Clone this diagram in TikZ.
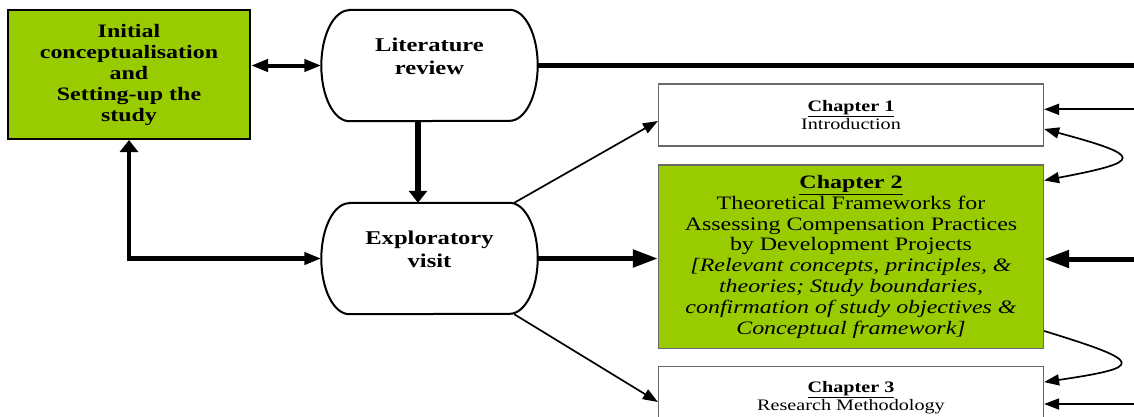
\documentclass[tikz,border=0pt]{standalone}
\usepackage{fontspec}
\setmainfont{Liberation Serif}[FakeStretch=1.26]
\usetikzlibrary{arrows.meta}
\definecolor{leaf}{RGB}{153,204,0}
\definecolor{rim}{RGB}{105,105,105}

% outline of a pill-shaped step (straight top and bottom, elliptic ends)
\newcommand\pilloutline[1]{%
  \draw[line width=2pt]
    ([xshift=28pt]#1.north west) -- ([xshift=-28pt]#1.north east)
    arc[start angle=-90,end angle=90,x radius=28,y radius=55.5]
    -- ([xshift=28pt]#1.south west)
    arc[start angle=90,end angle=270,x radius=28,y radius=55.5] -- cycle;}
% extra depth under the last line keeps the text in the upper part
\newcommand\pillfoot{\rule[-18pt]{0pt}{18pt}}

\begin{document}
\begin{tikzpicture}[x=1pt,y=-1pt,
  greenbox/.style={draw=black,line width=2pt,fill=leaf,minimum width=242pt,
    minimum height=129pt,align=center,inner sep=0pt,
    font=\fontsize{19}{21}\selectfont\bfseries},
  pill/.style={minimum width=216pt,minimum height=111pt,align=center,
    inner sep=0pt,font=\fontsize{19.5}{23.3}\selectfont\bfseries},
  chapbox/.style={draw=rim,line width=1.2pt,minimum width=385pt,
    minimum height=62pt,align=center,inner sep=0pt,
    font=\fontsize{16}{18}\selectfont},
  chapgreen/.style={draw=rim,line width=1.2pt,fill=leaf,minimum width=385pt,
    minimum height=183.3pt,align=center,inner sep=0pt,
    font=\fontsize{19}{20.8}\selectfont},
  hflowboth/.style={line width=4pt,{Triangle[length=17pt,width=12pt]}-{Triangle[length=17pt,width=12pt]}},
  vflow/.style={line width=5.5pt,-{Triangle[length=12pt,width=18pt]}},
  bigflow/.style={line width=5pt,-{Triangle[length=25pt,width=17pt]}},
  thinflow/.style={line width=1.7pt,-{Triangle[length=15pt,width=11pt]}},
  thinboth/.style={line width=1.7pt,{Triangle[length=15pt,width=11pt]}-{Triangle[length=15pt,width=11pt]}},
]
\useasboundingbox (0,0) rectangle (1134,416);
\clip (0,0) rectangle (1134,416);

% left column
\node[greenbox] (init) at (129,74.5)
  {Initial\\conceptualisation\\and\\Setting-up the\\study};
\node[pill] (lit) at (429.5,65.5) {Literature\\review\pillfoot};
\node[pill] (exp) at (429.5,258.5) {Exploratory\\visit\pillfoot};
\pilloutline{lit}
\pilloutline{exp}

% chapters
\node[chapbox] (ch1) at (851,115)
  {\underline{\textbf{Chapter 1}}\\Introduction};
\node[chapgreen] (ch2) at (851,256.7)
  {\underline{\textbf{Chapter 2}}\\Theoretical Frameworks for\\
   Assessing Compensation Practices\\by Development Projects\\
   \textit{[Relevant concepts, principles, \&}\\
   \textit{theories; Study boundaries,}\\
   \textit{confirmation of study objectives \&}\\
   \textit{Conceptual framework]}};
\node[chapbox,fill=white] (ch3) at (851,397.7)
  {\underline{\textbf{Chapter 3}}\\Research Methodology};

% free ends at the right margin
\coordinate (topEnd) at (1134,65.5);
\coordinate (r1) at (1134,109.3);
\coordinate (r2) at (1134,259);
\coordinate (r3) at (1134,404);

% connectors of the left column
\draw[hflowboth] (init.east |- lit.west) -- (lit.west);
\draw[vflow] ([xshift=-11.5pt]lit.south) -- ([xshift=-11.5pt]exp.north);
\draw[line width=4.5pt,{Triangle[length=12pt,width=18pt]}-{Triangle[length=17pt,width=12pt]}]
  (init.south) |- (exp.west);
\draw[line width=5pt] (lit.east) -- (topEnd);

% connectors towards the chapters
\draw[thinflow] ([xshift=-23.5pt]exp.north east) -- ([yshift=-6pt]ch1.west);
\draw[thinflow] ([xshift=-23.5pt]exp.south east) -- ([yshift=-4.3pt]ch3.west);
\draw[bigflow] (exp.east) -- (exp.east -| ch2.west);
\draw[bigflow] (r2) -- (r2 -| ch2.east);
\draw[thinflow] (r1) -- (r1 -| ch1.east);
\draw[thinflow] (r3) -- (r3 -| ch3.east);

% links between consecutive chapters
\draw[thinboth] ([yshift=-14pt]ch1.east)
  .. controls +(100,27) and +(100,-19) .. ([yshift=-16pt]ch2.north east);
\draw[thinflow] ([yshift=18pt]ch2.south east)
  .. controls +(101,31) and +(101,-15) .. ([yshift=-16pt]ch3.north east);
\end{tikzpicture}
\end{document}
